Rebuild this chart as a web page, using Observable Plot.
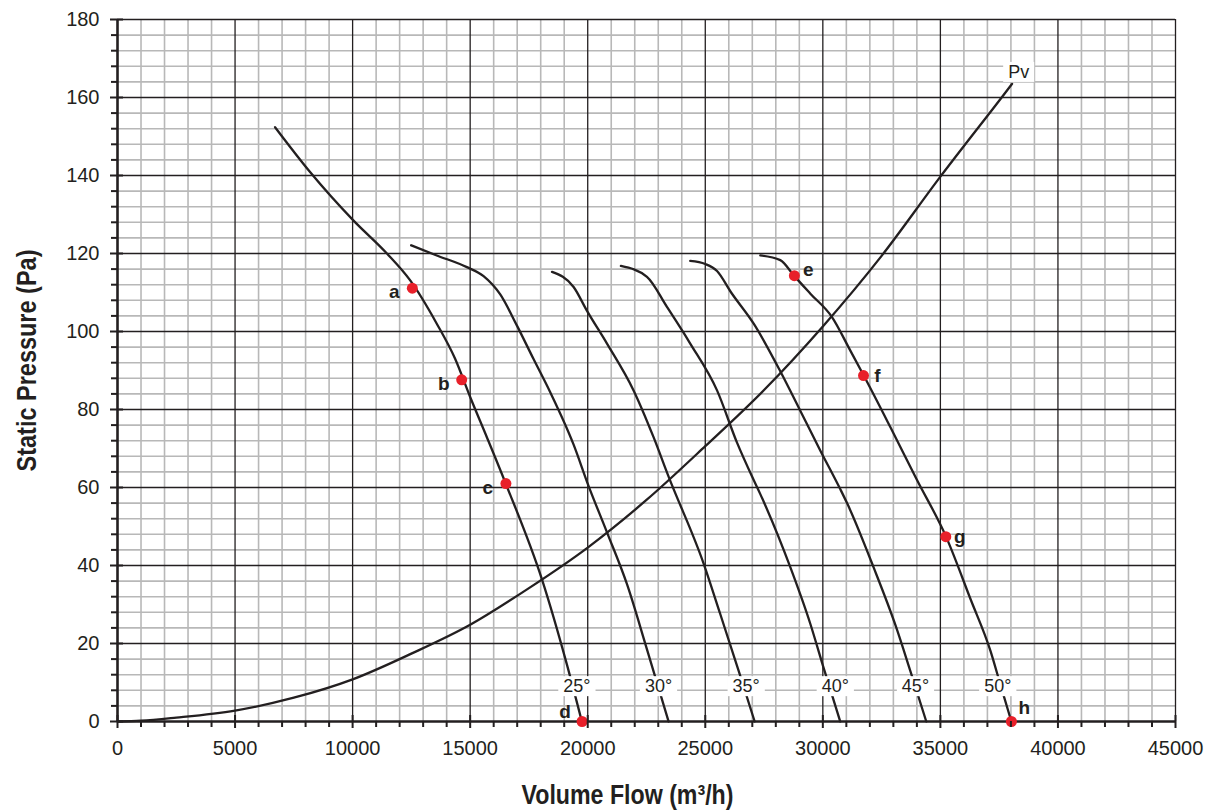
<!DOCTYPE html>
<html><head><meta charset="utf-8">
<script src="https://cdn.jsdelivr.net/npm/d3@7"></script>
<script src="https://cdn.jsdelivr.net/npm/@observablehq/plot@0.6"></script>
<style>body{margin:0;background:#fff;} svg{display:block}</style>
</head><body><div id="chart"></div>
<script>
// Fan curves (Volume flow m3/h, static pressure Pa) per blade angle
const curve25 = [[6700,152.4],[8190,140.9],[10030,128.5],[11460,120],[12450,113.1],[13580,102],[14360,93],[15000,83.2],[15710,72.9],[16520,60.9],[18050,36.5],[19110,14.7],[19750,0]];
const curve30 = [[12490,122.1],[13580,119.5],[14860,116.5],[15570,114.2],[16280,109.5],[16990,101.5],[17690,93],[18400,84.5],[19400,71],[20030,60.5],[20820,48.5],[21670,35.2],[22520,18.5],[23440,0]];
const curve35 = [[18480,115.3],[19400,111.4],[19970,105.3],[20820,96.9],[21950,84.9],[22800,72.9],[23440,62.8],[24930,40.5],[25640,27.5],[26420,13],[27100,0]];
const curve40 = [[21410,116.8],[22520,114],[23370,106.3],[24360,96.9],[25500,84.9],[26350,71.5],[26990,62.8],[27340,58.3],[28620,39.5],[29470,25],[30030,13.8],[30740,0]];
const curve45 = [[24360,118.1],[25000,117.3],[25500,115.5],[26100,110],[27060,102],[28190,89.8],[29040,79.7],[29890,69.5],[30740,59.6],[31030,56],[32160,39.5],[33100,24.5],[33720,13],[34400,0]];
const curve50 = [[27340,119.5],[28190,118.3],[28790,114.2],[29470,109.7],[30390,103.7],[31170,95.1],[31740,88.7],[32870,75.5],[34000,62],[35240,47.4],[36280,31.4],[37130,18.1],[37550,9.5],[38020,0]];
// System curve Pv
const pv = [[0,0],[1000,0.2],[2500,1.0],[5000,2.8],[7500,6.1],[10000,10.8],[12500,17.4],[15000,24.8],[17500,34.2],[20000,44.6],[22500,56.8],[25000,70.6],[27500,85],[30000,101.3],[32500,119.4],[35000,139.7],[37630,160.2],[38050,163.5]];

// Operating points
const pointNames = ["a","b","c","d","e","f","g","h"];
const pointX = [12540,14640,16520,19760,28790,31730,35230,38020];
const pointY = [111.1,87.6,61,0,114.3,88.7,47.4,0];

// Angle labels
const angleNames = ["25°","30°","35°","40°","45°","50°"];
const angleX = [19540,23010,26740,30530,33940,37440];
const angleY = [9,9,9,9,9,9];
const pvLabel = "Pv";
const pvLabelX = 38330, pvLabelY = 166.5;

// Ticks
const xMajor = d3.range(0, 45001, 5000);
const xMinor = d3.range(0, 45001, 1000).filter(v => v % 5000 !== 0);
const yMajor = d3.range(0, 181, 20);
const yMinor = d3.range(0, 181, 4).filter(v => v % 20 !== 0);

const xTitle = "Volume Flow (m³/h)";
const yTitle = "Static Pressure (Pa)";

const curveSets = [curve25, curve30, curve35, curve40, curve45, curve50];
const rows = curveSets.flatMap((c, i) => c.map(([x, y]) => ({series: angleNames[i], x, y})));
const pvRows = pv.map(([x, y]) => ({x, y}));
const points = pointNames.map((n, i) => ({name: n, x: pointX[i], y: pointY[i]}));
const angles = angleNames.map((n, i) => ({name: n, x: angleX[i], y: angleY[i]}));

const ink = "#231f20";
const txtFont = "'Liberation Sans', Arial, sans-serif";

const svg = Plot.plot({
  width: 1215, height: 812,
  marginLeft: 117, marginRight: 40, marginTop: 19, marginBottom: 91,
  x: {domain: [0, 45000]},
  y: {domain: [0, 180]},
  style: {fontFamily: txtFont, fontSize: "20px", color: ink, background: "white"},
  marks: [
    Plot.ruleX(xMinor, {stroke: "#b8b8b8", strokeWidth: 1.6}),
    Plot.ruleY(yMinor, {stroke: "#b8b8b8", strokeWidth: 1.6}),
    Plot.ruleX(xMajor.slice(1), {stroke: ink, strokeWidth: 1.3}),
    Plot.ruleY(yMajor.slice(1), {stroke: ink, strokeWidth: 1.3}),
    Plot.ruleX([0], {stroke: ink, strokeWidth: 2.6}),
    Plot.ruleY([0], {stroke: ink, strokeWidth: 2.6}),
    Plot.line(rows, {x: "x", y: "y", z: "series", curve: "monotone-x", stroke: ink, strokeWidth: 2.3}),
    Plot.line(pvRows, {x: "x", y: "y", curve: "monotone-x", stroke: ink, strokeWidth: 2.3}),
    Plot.text(angles, {x: "x", y: "y", text: "name", fontSize: 18, fill: ink}),
    Plot.text([pvLabel], {x: () => pvLabelX, y: () => pvLabelY, text: d => d, fontSize: 18, fill: ink}),
    Plot.dot(points, {x: "x", y: "y", r: 5.5, fill: "#e8202a", stroke: "none"}),
    Plot.text(points.filter(p => "abc".includes(p.name)), {x: "x", y: "y", text: "name", dx: -18, dy: 4, fontSize: 19, fontWeight: "bold", fill: ink}),
    Plot.text(points.filter(p => p.name === "d"), {x: "x", y: "y", text: "name", dx: -17, dy: -10, fontSize: 19, fontWeight: "bold", fill: ink}),
    Plot.text(points.filter(p => p.name === "e"), {x: "x", y: "y", text: "name", dx: 14, dy: -6, fontSize: 19, fontWeight: "bold", fill: ink}),
    Plot.text(points.filter(p => "fg".includes(p.name)), {x: "x", y: "y", text: "name", dx: 14, dy: 0, fontSize: 19, fontWeight: "bold", fill: ink}),
    Plot.text(points.filter(p => p.name === "h"), {x: "x", y: "y", text: "name", dx: 13, dy: -14, fontSize: 19, fontWeight: "bold", fill: ink}),
    Plot.axisX(xMinor, {tickSize: 6, tickFormat: () => "", label: null, stroke: ink, strokeWidth: 2}),
    Plot.axisX(xMajor, {tickSize: 7, tickPadding: 12, tickFormat: d => String(d), label: null, stroke: ink, strokeWidth: 2, fontSize: 20, fill: ink}),
    Plot.axisX(xMajor, {tickSize: -6, tickFormat: () => "", label: null, stroke: ink, strokeWidth: 2}),
    Plot.axisY(yMinor, {tickSize: 6, tickFormat: () => "", label: null, stroke: ink, strokeWidth: 2}),
    Plot.axisY(yMajor, {tickSize: 7, tickPadding: 11, tickFormat: d => String(d), label: null, stroke: ink, strokeWidth: 2, fontSize: 20, fill: ink}),
    Plot.axisY(yMajor, {tickSize: -6, tickFormat: () => "", label: null, stroke: ink, strokeWidth: 2}),
    Plot.text([xTitle], {frameAnchor: "bottom", text: d => d, textAnchor: "middle", lineAnchor: "middle", dx: -19, dy: 74, fontSize: 27, fontWeight: "bold", fill: ink}),
    Plot.text([yTitle], {frameAnchor: "left", text: d => d, textAnchor: "middle", lineAnchor: "middle", rotate: -90, dx: -90, dy: -10, fontSize: 27, fontWeight: "bold", fill: ink})
  ]
});
document.getElementById("chart").append(svg);

// White boxes behind the curve labels; condensed axis titles
const boxed = new Set([...angleNames, pvLabel]);
svg.querySelectorAll("text").forEach(t => {
  const s = t.textContent;
  if (s === xTitle) { t.setAttribute("textLength", 212); t.setAttribute("lengthAdjust", "spacingAndGlyphs"); return; }
  if (s === yTitle) { t.setAttribute("textLength", 222); t.setAttribute("lengthAdjust", "spacingAndGlyphs"); return; }
  if (!boxed.has(s)) return;
  const bb = t.getBBox();
  const r = document.createElementNS("http://www.w3.org/2000/svg", "rect");
  r.setAttribute("x", bb.x - 5);
  r.setAttribute("y", bb.y);
  r.setAttribute("width", bb.width + 10);
  r.setAttribute("height", bb.height);
  r.setAttribute("fill", "white");
  const tr = t.getAttribute("transform");
  if (tr) r.setAttribute("transform", tr);
  t.parentNode.insertBefore(r, t);
});
</script>
</body></html>
